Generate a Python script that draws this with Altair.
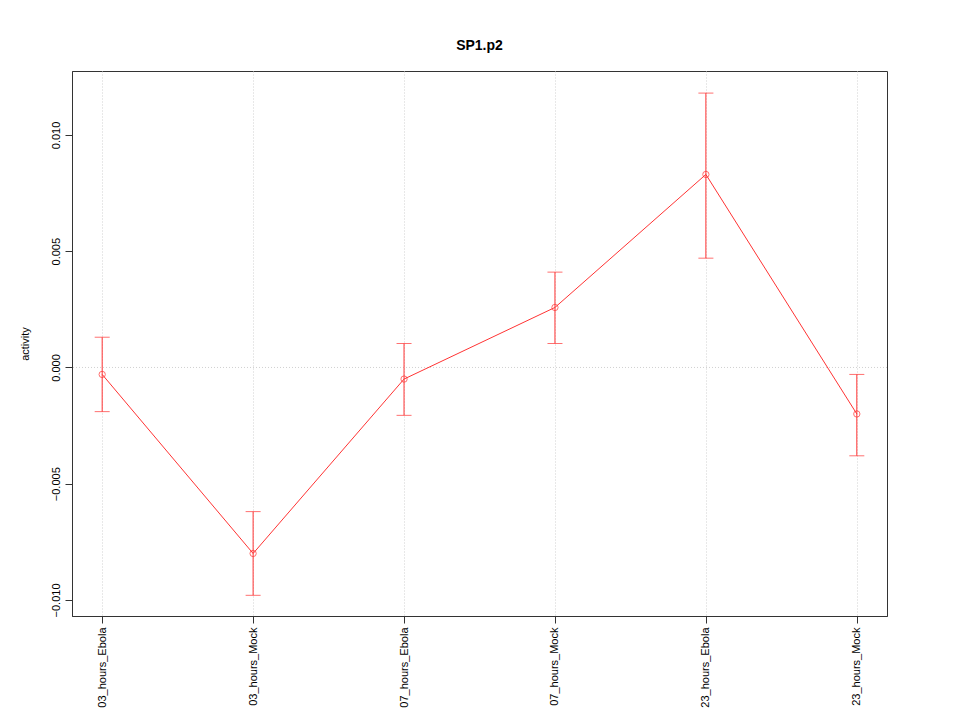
import altair as alt
import pandas as pd

categories = ["03_hours_Ebola", "03_hours_Mock", "07_hours_Ebola", "07_hours_Mock", "23_hours_Ebola", "23_hours_Mock"]
activity = [-0.0003, -0.0080, -0.0005, 0.00258, 0.0083, -0.0020]
upper = [0.0013, -0.0062, 0.00103, 0.0041, 0.0118, -0.0003]
lower = [-0.0019, -0.0098, -0.00206, 0.00103, 0.0047, -0.0038]
y_ticks = [-0.010, -0.005, 0.000, 0.005, 0.010]

df = pd.DataFrame({
    "idx": list(range(1, len(categories) + 1)),
    "cat": categories,
    "activity": activity,
    "upper": upper,
    "lower": lower,
})

label_expr = "[" + ",".join("'" + c + "'" for c in categories) + "][datum.value - 1]"

xscale = alt.Scale(domain=[0.8, 6.2], nice=False, zero=False)
yscale = alt.Scale(domain=[-0.01069, 0.01275], nice=False, zero=False)

x_axis = alt.Axis(
    values=list(range(1, 7)), labelExpr=label_expr, labelAngle=270,
    title=None, grid=True, gridColor="#d0d0d0", gridDash=[1, 2],
    tickSize=7, tickColor="#333333", domainColor="#333333",
    labelFont="Liberation Sans", labelFontSize=11, labelColor="black",
    labelPadding=4, labelAlign="right", labelBaseline="middle",
)
y_axis = alt.Axis(
    values=y_ticks, format=".3f", labelAngle=270, grid=False,
    title="activity", titleFont="Liberation Sans", titleFontSize=11,
    titleFontWeight="normal", titleColor="black", titlePadding=20,
    tickSize=7, tickColor="#333333", domainColor="#333333",
    labelFont="Liberation Sans", labelFontSize=11, labelColor="black",
    labelPadding=4, labelAlign="center", labelBaseline="bottom",
)

base = alt.Chart(df)

line = base.mark_line(color="#ff3333", strokeWidth=1).encode(
    x=alt.X("idx:Q", scale=xscale, axis=x_axis),
    y=alt.Y("activity:Q", scale=yscale, axis=y_axis),
)
zero = alt.Chart(pd.DataFrame({"z": [0.0]})).mark_rule(
    color="#d0d0d0", strokeDash=[1, 2], strokeWidth=1
).encode(y=alt.Y("z:Q", scale=yscale))
err = base.mark_rule(color="#ff3333", strokeWidth=1).encode(
    x=alt.X("idx:Q", scale=xscale),
    y=alt.Y("lower:Q", scale=yscale),
    y2="upper:Q",
)
cap_u = base.mark_tick(color="#ff3333", orient="horizontal", size=15, thickness=1).encode(
    x=alt.X("idx:Q", scale=xscale), y=alt.Y("upper:Q", scale=yscale)
)
cap_l = base.mark_tick(color="#ff3333", orient="horizontal", size=15, thickness=1).encode(
    x=alt.X("idx:Q", scale=xscale), y=alt.Y("lower:Q", scale=yscale)
)
pts = base.mark_point(shape="circle", size=40, color="#ff3333", filled=False, strokeWidth=1).encode(
    x=alt.X("idx:Q", scale=xscale), y=alt.Y("activity:Q", scale=yscale)
)

chart = alt.layer(zero, line, err, cap_u, cap_l, pts).properties(
    width=815, height=545,
    background="white",
    autosize=alt.AutoSizeParams(type="none"),
    padding={"left": 64, "top": 63, "right": 65, "bottom": 96},
    title=alt.Title("SP1.p2", font="Liberation Sans", fontSize=14, fontWeight="bold",
                    color="black", offset=18, anchor="middle"),
).configure_view(stroke="#333333", strokeWidth=1)

chart.save("out.html", embed_options={"renderer": "svg", "actions": False})
